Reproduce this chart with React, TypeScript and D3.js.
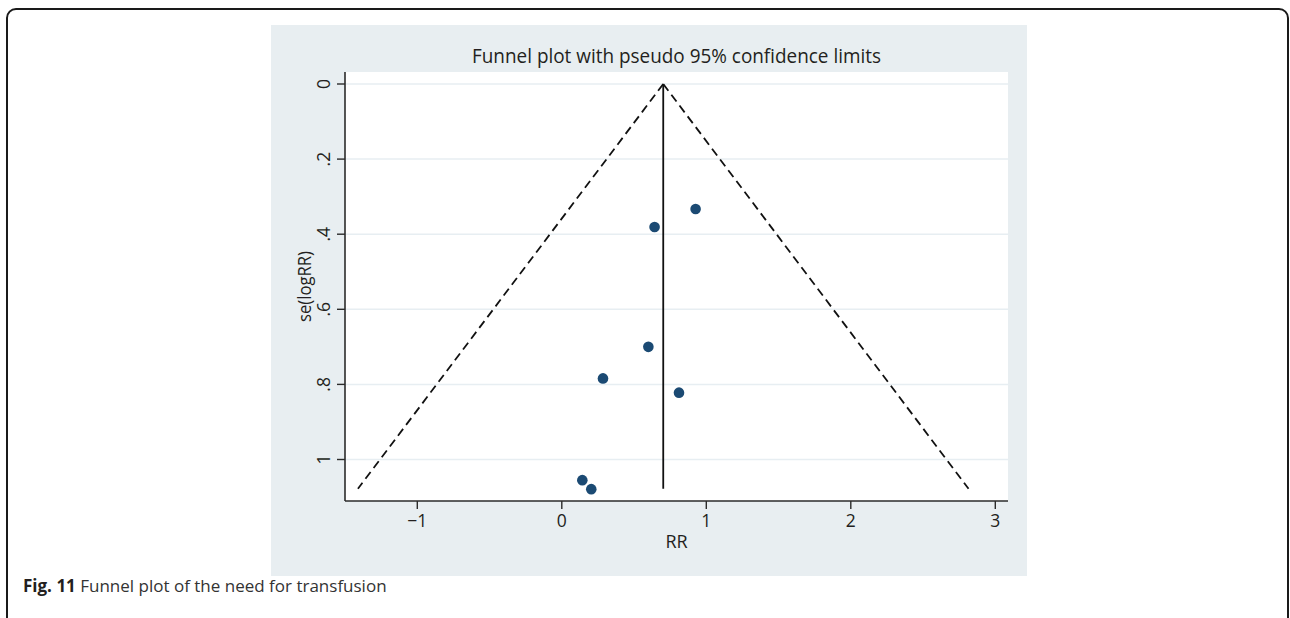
import React from "react";
import * as d3 from "d3";

const studyRR = [0.642, 0.926, 0.599, 0.285, 0.811, 0.142, 0.204];
const studySE = [0.381, 0.333, 0.7, 0.784, 0.822, 1.055, 1.079];
const pooledRR = 0.702;
const maxSE = 1.078;
const xTicks = [-1, 0, 1, 2, 3];
const yTicks = [0, 0.2, 0.4, 0.6, 0.8, 1];
const yTickLabels = ["0", ".2", ".4", ".6", ".8", "1"];
const titleText = "Funnel plot with pseudo 95% confidence limits";
const xLabel = "RR";
const yLabel = "se(logRR)";
const captionBold = "Fig. 11";
const captionText = " Funnel plot of the need for transfusion";

const W = 1290;
const H = 618;
const FONT = "'Open Sans', 'Noto Sans', sans-serif";

export default function App() {
  const x = d3.scaleLinear().domain([-1, 3]).range([417.3, 995.3]);
  const y = d3.scaleLinear().domain([0, 1]).range([84, 459.5]);
  const left = 345;
  const right = 1008;
  const top = 72;
  const bottom = 501;

  const z = 1.96;
  const funnel = d3.line<[number, number]>()
    .x((d) => x(d[0]))
    .y((d) => y(d[1]));
  const leftLine: [number, number][] = [
    [pooledRR, 0],
    [pooledRR - z * maxSE, maxSE],
  ];
  const rightLine: [number, number][] = [
    [pooledRR, 0],
    [pooledRR + z * maxSE, maxSE],
  ];
  const axisColor = "#2b2b2b";
  const textColor = "#231f20";

  return (
    <svg
      width={W}
      height={H}
      style={{ position: "absolute", left: 0, top: 0, display: "block" }}
    >
      <rect x={0} y={0} width={W} height={H} fill="#ffffff" />
      <rect
        x={7}
        y={9}
        width={1281}
        height={700}
        rx={9}
        ry={9}
        fill="none"
        stroke="#1a1a1a"
        strokeWidth={2}
      />
      {/* graph region */}
      <rect x={271} y={25} width={756} height={551} fill="#e8eef1" />
      <rect x={left} y={top} width={right - left} height={bottom - top} fill="#ffffff" />
      {/* gridlines */}
      {yTicks.map((t) => (
        <line
          key={"g" + t}
          x1={left}
          x2={right}
          y1={y(t)}
          y2={y(t)}
          stroke="#e7eef2"
          strokeWidth={1.5}
        />
      ))}
      {/* title */}
      <text
        x={(left + right) / 2}
        y={62.7}
        textAnchor="middle"
        fontFamily={FONT}
        fontSize={19.5}
        textLength={409}
        lengthAdjust="spacingAndGlyphs"
        fill={textColor}
      >
        {titleText}
      </text>
      {/* funnel */}
      <path d={funnel(leftLine) || ""} fill="none" stroke="#111" strokeWidth={1.8} strokeDasharray="8.5,5" />
      <path d={funnel(rightLine) || ""} fill="none" stroke="#111" strokeWidth={1.8} strokeDasharray="8.5,5" />
      <line
        x1={x(pooledRR)}
        x2={x(pooledRR)}
        y1={y(0)}
        y2={y(maxSE)}
        stroke="#111"
        strokeWidth={1.8}
      />
      {/* points */}
      {studyRR.map((v, i) => (
        <circle key={"p" + i} cx={x(v)} cy={y(studySE[i])} r={5.3} fill="#1b4a73" />
      ))}
      {/* axes */}
      <line x1={left} x2={right} y1={bottom} y2={bottom} stroke={axisColor} strokeWidth={1.6} />
      <line x1={left} x2={left} y1={top} y2={bottom} stroke={axisColor} strokeWidth={1.6} />
      {xTicks.map((t) => (
        <g key={"xt" + t}>
          <line x1={x(t)} x2={x(t)} y1={bottom} y2={bottom + 8} stroke={axisColor} strokeWidth={1.4} />
          <text
            x={x(t)}
            y={527}
            textAnchor="middle"
            fontFamily={FONT}
            fontSize={17.5}
            fill={textColor}
          >
            {t < 0 ? "\u2212" + Math.abs(t) : String(t)}
          </text>
        </g>
      ))}
      {yTicks.map((t, i) => (
        <g key={"yt" + t}>
          <line x1={left - 8} x2={left} y1={y(t)} y2={y(t)} stroke={axisColor} strokeWidth={1.4} />
          <text
            transform={`translate(${329.5},${y(t)}) rotate(-90)`}
            textAnchor="middle"
            fontFamily={FONT}
            fontSize={17.5}
            fill={textColor}
          >
            {yTickLabels[i]}
          </text>
        </g>
      ))}
      <text
        x={(left + right) / 2}
        y={547.5}
        textAnchor="middle"
        fontFamily={FONT}
        fontSize={18}
        fill={textColor}
      >
        {xLabel}
      </text>
      <text
        transform={`translate(${311},${(top + bottom) / 2}) rotate(-90)`}
        textAnchor="middle"
        fontFamily={FONT}
        fontSize={18.5}
        textLength={71}
        lengthAdjust="spacingAndGlyphs"
        fill={textColor}
      >
        {yLabel}
      </text>
      {/* caption */}
      <text x={23} y={591.5} fontFamily={FONT} fontSize={17} fill={textColor}>
        <tspan fontWeight="bold">{captionBold}</tspan>
        <tspan fill="#333">{captionText}</tspan>
      </text>
    </svg>
  );
}
